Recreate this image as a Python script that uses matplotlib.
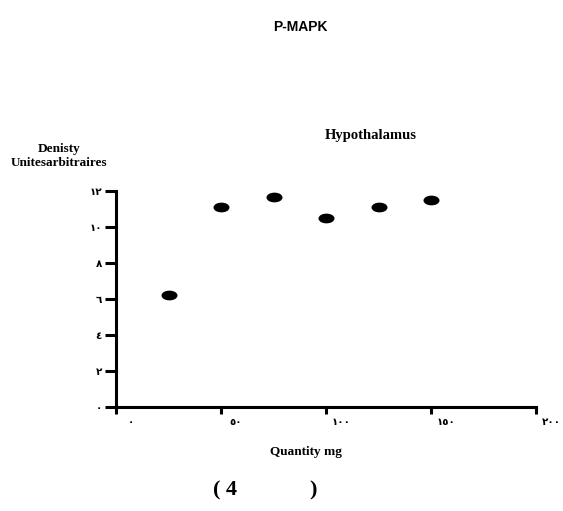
import matplotlib
matplotlib.use("Agg")
import matplotlib.pyplot as plt
from matplotlib.path import Path
from matplotlib.transforms import Affine2D, ScaledTranslation

quantity = [25, 50, 75, 100, 125, 150]
density = [6.2, 11.1, 11.65, 10.5, 11.1, 11.5]
x_ticks = [0, 50, 100, 150, 200]
x_labels = ["٠", "٥٠", "١٠٠", "١٥٠", "٢٠٠"]
y_ticks = [0, 2, 4, 6, 8, 10, 12]
y_labels = ["٠", "٢", "٤", "٦", "٨", "١٠", "١٢"]

W, H = 563, 511
fig = plt.figure(figsize=(W / 100, H / 100), dpi=100)
ax = fig.add_axes([116 / W, 1 - 407 / H, (536 - 116) / W, (407 - 191) / H])

ellipse = Path.unit_circle().transformed(Affine2D().scale(1.75, 1.0))
ax.plot(quantity, density, linestyle="none", marker=ellipse, markersize=10.5,
        color="black", clip_on=False)

ax.set_xlim(0, 200)
ax.set_ylim(0, 12)
for s in ["top", "right"]:
    ax.spines[s].set_visible(False)
for s in ["left", "bottom"]:
    ax.spines[s].set_linewidth(2.2)

ax.set_xticks(x_ticks)
ax.set_xticklabels(x_labels, family=["DejaVu Sans"], fontweight="bold", fontsize=7.5)
ax.set_yticks(y_ticks)
ax.set_yticklabels(y_labels, family=["DejaVu Sans"], fontweight="bold", fontsize=7.5)
ax.tick_params(axis="x", length=5, width=2.2, pad=2)
ax.tick_params(axis="y", length=8, width=2.2, pad=2)
offset = ScaledTranslation(0.15, 0, fig.dpi_scale_trans)
for lab in ax.get_xticklabels():
    lab.set_transform(lab.get_transform() + offset)

fig.text(300 / W, 1 - 27 / H, "P-MAPK", ha="center", va="center",
         family="Liberation Sans", fontweight="bold", fontsize=10)
fig.text(371 / W, 1 - 135 / H, "Hypothalamus", ha="center", va="center",
         family="Liberation Serif", fontweight="bold", fontsize=10.5)
fig.text(59 / W, 1 - 156 / H, "Denisty\nUnitesarbitraires", ha="center", va="center",
         family="Liberation Serif", fontweight="bold", fontsize=9.5, linespacing=1.15)
fig.text(306 / W, 1 - 452 / H, "Quantity mg", ha="center", va="center",
         family="Liberation Serif", fontweight="bold", fontsize=9.5)
fig.text(225 / W, 1 - 490 / H, "( 4", ha="center", va="center",
         family="Liberation Serif", fontweight="bold", fontsize=16)
fig.text(313 / W, 1 - 490 / H, ")", ha="center", va="center",
         family="Liberation Serif", fontweight="bold", fontsize=16)

fig.savefig("out.png", dpi=100)
